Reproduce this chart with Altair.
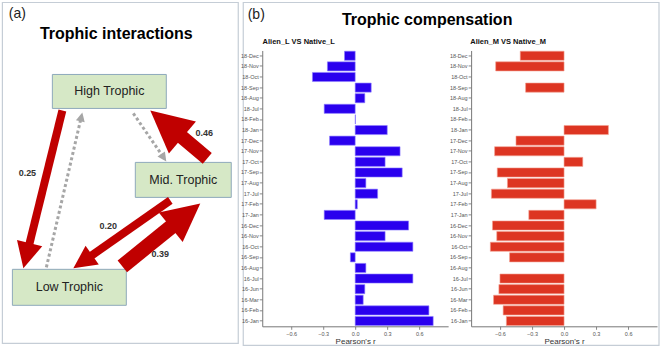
import math
import altair as alt
import pandas as pd

# ---------------- data: trophic compensation (panel b) ----------------
months = ["18-Dec", "18-Nov", "18-Oct", "18-Sep", "18-Aug", "18-Jul", "18-Feb", "18-Jan",
          "17-Dec", "17-Nov", "17-Oct", "17-Sep", "17-Aug", "17-Jul", "17-Feb", "17-Jan",
          "16-Dec", "16-Nov", "16-Oct", "16-Sep", "16-Aug", "16-Jul", "16-Jun", "16-Mar",
          "16-Feb", "16-Jan"]
alien_L = [-0.10, -0.26, -0.40, 0.15, 0.09, -0.29, 0.003, 0.30,
           -0.24, 0.42, 0.28, 0.44, 0.10, 0.21, 0.02, -0.29,
           0.50, 0.28, 0.54, -0.045, 0.10, 0.54, 0.09, 0.075,
           0.69, 0.73]
alien_M = [-0.41, -0.64, None, -0.36, None, None, None, 0.415,
           -0.45, -0.65, 0.175, -0.625, -0.53, -0.68, 0.30, -0.33,
           -0.67, -0.63, -0.69, -0.51, None, -0.60, -0.61, -0.66,
           -0.57, -0.54]
x_ticks = [-0.6, -0.3, 0.0, 0.3, 0.6]

# ---------------- data: trophic interactions diagram (panel a) ----------------
nodes = ["High Trophic", "Mid. Trophic", "Low Trophic"]
node_x1 = [52, 135, 12]
node_x2 = [166, 231, 126]
node_y1 = [74, 162, 269]
node_y2 = [108, 197, 305]

arrow_labels = ["0.25", "0.46", "0.20", "0.39", "", ""]
arrow_kind = ["solid", "solid", "solid", "solid", "dotted", "dotted"]
arrow_tail_x = [62, 207, 170, 122, 46, 133]
arrow_tail_y = [110, 158, 200, 266, 267, 113]
arrow_tip_x = [23, 150, 73, 200, 82, 166]
arrow_tip_y = [268, 110, 268, 203, 112, 161]
head_len = [26, 42, 23, 38, 9, 9]
shaft_w = [8, 14, 8, 15, 3, 3]
label_x = [27, 204, 108, 160]
label_y = [173, 133, 226, 254]

FONT = "Liberation Sans"
RED = "#c00000"
GREY = "#a6a6a6"

# diagram coordinate system (page pixels mapped through linear scales)
X_DOM = [2, 239]
Y_DOM = [50, 326]


def DX(f):
    return alt.X(f, type="quantitative", scale=alt.Scale(domain=X_DOM, nice=False, zero=False), axis=None)


def DY(f):
    return alt.Y(f, type="quantitative", scale=alt.Scale(domain=Y_DOM, nice=False, zero=False, reverse=True), axis=None)


# frames
frames = pd.DataFrame({"x": [2, 243], "x2": [238, 659], "y": [2, 2], "y2": [343, 345]})
frame_layer = alt.Chart(frames).mark_rect(fillOpacity=0, stroke="#c5cdd6", strokeWidth=1.2).encode(
    x=DX("x"), x2=alt.X2("x2"), y=DY("y"), y2=alt.Y2("y2"))

# node boxes
box_df = pd.DataFrame({"name": nodes, "x": node_x1, "x2": node_x2, "y": node_y1, "y2": node_y2})
box_df["cx"] = (box_df["x"] + box_df["x2"]) / 2
box_df["cy"] = (box_df["y"] + box_df["y2"]) / 2
box_layer = alt.Chart(box_df).mark_rect(fill="#d6e8c6", stroke="#8ea9bb", strokeWidth=1).encode(
    x=DX("x"), x2=alt.X2("x2"), y=DY("y"), y2=alt.Y2("y2"))
box_text = alt.Chart(box_df).mark_text(font=FONT, fontSize=12.5, color="#222222").encode(
    x=DX("cx"), y=DY("cy"), text="name:N")

# arrows: shafts + heads
shaft_rows, head_rows = [], []
for i in range(len(arrow_kind)):
    tx, ty = arrow_tail_x[i], arrow_tail_y[i]
    px, py = arrow_tip_x[i], arrow_tip_y[i]
    dx, dy = px - tx, py - ty
    n = math.hypot(dx, dy)
    ux, uy = dx / n, dy / n
    L = head_len[i]
    bx, by = px - ux * L * 0.85, py - uy * L * 0.85
    cx, cy = px - ux * L / 2, py - uy * L / 2
    ang = math.degrees(math.atan2(ux, -uy)) % 360
    col = RED if arrow_kind[i] == "solid" else GREY
    shaft_rows.append({"x": tx, "y": ty, "x2": bx, "y2": by, "w": shaft_w[i], "c": col, "k": arrow_kind[i]})
    head_rows.append({"x": cx, "y": cy, "ang": ang, "size": L * L, "c": col})

shaft_df = pd.DataFrame(shaft_rows)
solid_shafts = alt.Chart(shaft_df[shaft_df["k"] == "solid"]).mark_rule(strokeCap="butt").encode(
    x=DX("x"), y=DY("y"), x2=alt.X2("x2"), y2=alt.Y2("y2"),
    strokeWidth=alt.StrokeWidth("w:Q", scale=None),
    color=alt.Color("c:N", scale=None))
dotted_shafts = alt.Chart(shaft_df[shaft_df["k"] == "dotted"]).mark_rule(strokeCap="butt", strokeDash=[3, 2.5]).encode(
    x=DX("x"), y=DY("y"), x2=alt.X2("x2"), y2=alt.Y2("y2"),
    strokeWidth=alt.StrokeWidth("w:Q", scale=None),
    color=alt.Color("c:N", scale=None))
heads = alt.Chart(pd.DataFrame(head_rows)).mark_point(
    shape="M0,-1L1,1L-1,1Z", filled=True, opacity=1, strokeWidth=0).encode(
    x=DX("x"), y=DY("y"),
    size=alt.Size("size:Q", scale=None),
    angle=alt.Angle("ang:Q", scale=None),
    color=alt.Color("c:N", scale=None))

lab_df = pd.DataFrame({"t": arrow_labels[:4], "x": label_x, "y": label_y})
arrow_text = alt.Chart(lab_df).mark_text(font=FONT, fontSize=9, fontWeight="bold", color="#333333").encode(
    x=DX("x"), y=DY("y"), text="t:N")

# titles and panel letters (page positions)
title_df = pd.DataFrame({"t": ["Trophic interactions", "Trophic compensation"], "x": [116, 427], "y": [34, 20]})
titles = alt.Chart(title_df).mark_text(font=FONT, fontSize=16, fontWeight="bold", color="#000000").encode(
    x=DX("x"), y=DY("y"), text="t:N")
letter_df = pd.DataFrame({"t": ["(a)", "(b)"], "x": [17, 256], "y": [14, 15]})
letters = alt.Chart(letter_df).mark_text(font=FONT, fontSize=14, color="#222222").encode(
    x=DX("x"), y=DY("y"), text="t:N")
sub_df = pd.DataFrame({"t": ["Alien_L VS Native_L", "Alien_M VS Native_M"], "x": [298.5, 508], "y": [42, 42]})
subtitles = alt.Chart(sub_df).mark_text(font=FONT, fontSize=7.5, fontWeight="bold", color="#111111").encode(
    x=DX("x"), y=DY("y"), text="t:N")

diagram = alt.layer(frame_layer, box_layer, box_text, dotted_shafts, solid_shafts, heads,
                    arrow_text, titles, letters, subtitles).properties(width=237, height=276)


def bars(values, color, stroke):
    df = pd.DataFrame({"month": months, "r": values}).dropna()
    return alt.Chart(df).mark_bar(color=color, stroke=stroke, strokeWidth=0.6).encode(
        x=alt.X("r:Q",
                scale=alt.Scale(domain=[-0.87, 0.87], nice=False, zero=False),
                axis=alt.Axis(values=x_ticks, format=".1f", title="Pearson's r", grid=False,
                              labelFontSize=5.5, labelColor="#555555", labelFont=FONT,
                              tickSize=3, tickColor="#888888", domainColor="#777777",
                              titleFontSize=8, titleFontWeight="normal", titleColor="#333333",
                              titleFont=FONT, titlePadding=1, labelPadding=2)),
        x2=alt.datum(0),
        y=alt.Y("month:N",
                scale=alt.Scale(domain=months, paddingInner=0.14, paddingOuter=0.07),
                axis=alt.Axis(title=None, labelFontSize=5.5, labelColor="#555555", labelFont=FONT,
                              tickSize=3, tickColor="#888888", domainColor="#777777",
                              labelPadding=1, grid=False)),
    ).properties(width=186, height=276)


bar_L = bars(alien_L, "#2a00ee", "#8f80ff")
bar_M = bars(alien_M, "#dd3522", "#f4a090")

chart = alt.hconcat(diagram, bar_L, bar_M, spacing=23, bounds="flush").properties(
    padding={"left": 1.4, "top": 1.4, "right": 2, "bottom": 2},
    background="white",
).configure_view(strokeWidth=0)

chart.save("out.html", embed_options={"renderer": "svg", "actions": False})
